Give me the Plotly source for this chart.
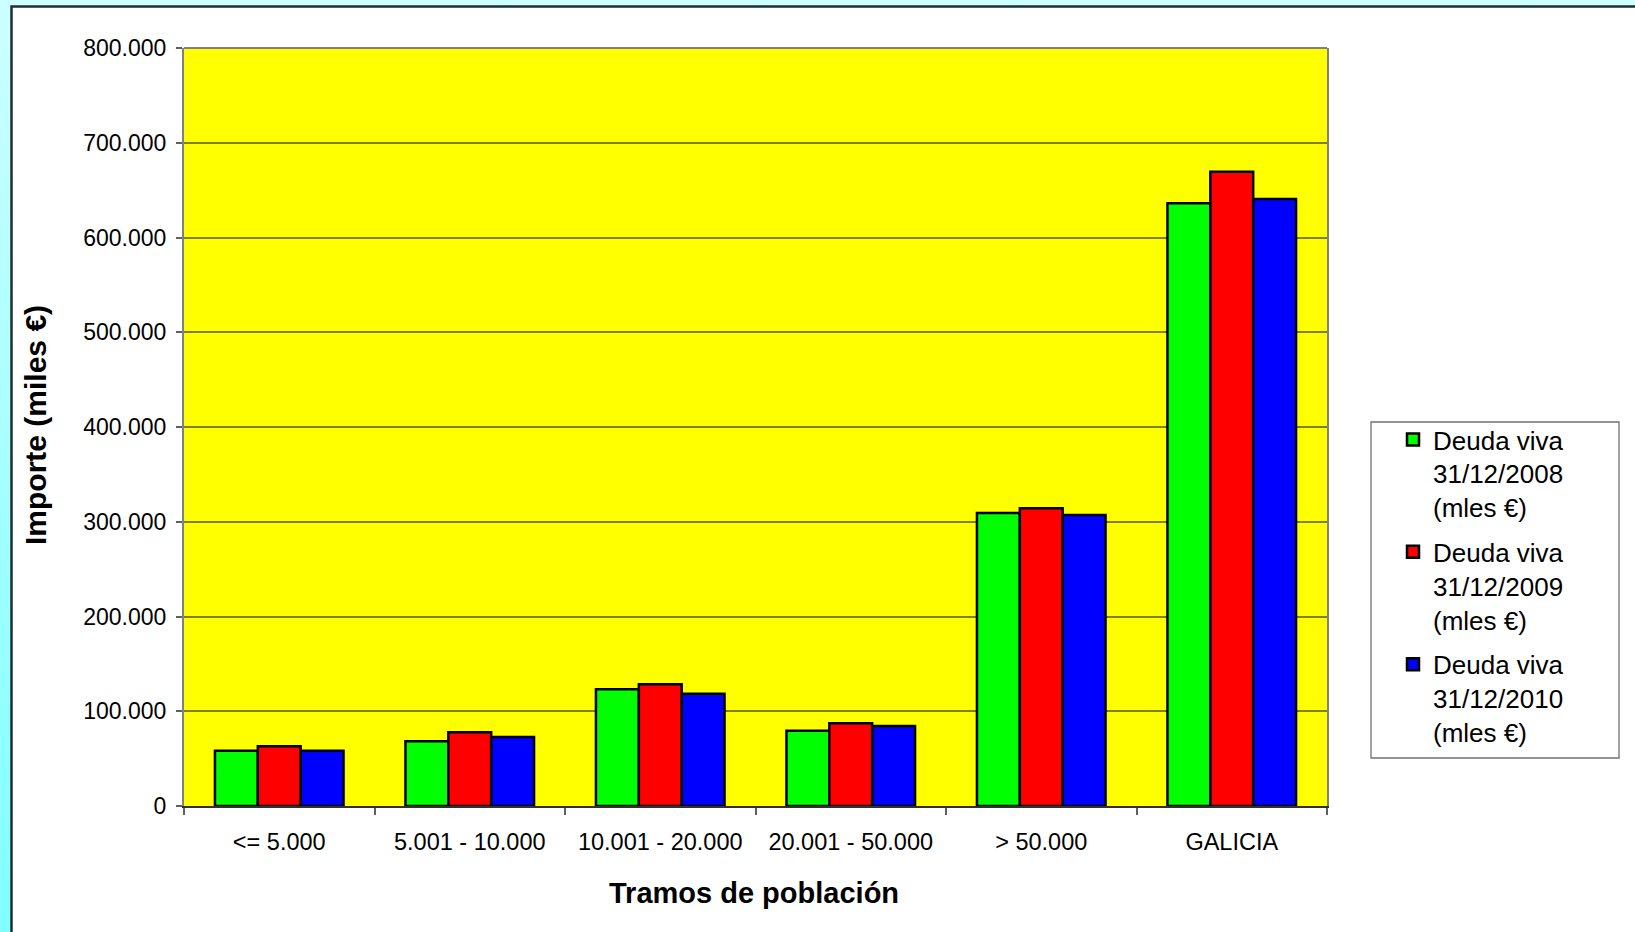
import base64
import plotly.graph_objects as go

categories = ["<= 5.000", "5.001 - 10.000", "10.001 - 20.000", "20.001 - 50.000", "> 50.000", "GALICIA"]
deuda_2008 = [58400, 68300, 123200, 79500, 309200, 636100]
deuda_2009 = [63000, 77800, 128400, 87300, 314200, 669500]
deuda_2010 = [58400, 72800, 118500, 84400, 307100, 640600]
series_names = [
    "Deuda viva<br>31/12/2008<br>(mles €)",
    "Deuda viva<br>31/12/2009<br>(mles €)",
    "Deuda viva<br>31/12/2010<br>(mles €)",
]
colors = ["#00FF00", "#FF0000", "#0000FF"]

W, H = 1635, 932
L, R, T, B = 184, 1327, 48, 806
pw, ph = R - L, B - T

def px(x):
    return (x - L) / pw

def py(y):
    return (B - y) / ph

svg = f'''<svg xmlns="http://www.w3.org/2000/svg" width="{W}" height="{H}" viewBox="0 0 {W} {H}" preserveAspectRatio="none">
<defs><linearGradient id="g" x1="0" y1="0" x2="0" y2="1">
<stop offset="0" stop-color="#CCFFFF"/><stop offset="1" stop-color="#80FFFF"/></linearGradient></defs>
<rect x="0" y="0" width="{W}" height="{H}" fill="url(#g)"/>
<rect x="11.5" y="6.5" width="{W + 20}" height="{H + 20}" fill="#FFFFFF" stroke="#1F2F2F" stroke-width="2.5"/>
</svg>'''
bg_uri = "data:image/svg+xml;base64," + base64.b64encode(svg.encode()).decode()

fig = go.Figure()
for i, (name, vals, col) in enumerate(zip(series_names, [deuda_2008, deuda_2009, deuda_2010], colors)):
    fig.add_trace(go.Bar(
        x=categories, y=vals, name=name, legendgroup=f"g{i}",
        marker=dict(color=col, line=dict(color="#000000", width=2.5)),
    ))

font_family = "Liberation Sans, Arial, sans-serif"

fig.update_layout(
    width=W, height=H,
    margin=dict(l=L, r=W - R, t=T, b=H - B, autoexpand=False),
    paper_bgcolor="#FFFFFF",
    plot_bgcolor="#FFFF00",
    separators=",.",
    barmode="group",
    bargap=0.325,
    bargroupgap=0,
    font=dict(family=font_family, color="#000000"),
    showlegend=True,
    legend=dict(
        x=px(1393), y=py(416), xanchor="left", yanchor="top",
        bgcolor="rgba(0,0,0,0)", borderwidth=0,
        font=dict(size=26, family=font_family, color="#000000"),
        valign="top", traceorder="grouped", tracegroupgap=8,
    ),
    images=[dict(
        source=bg_uri, xref="paper", yref="paper",
        x=px(0), y=py(0), sizex=W / pw, sizey=H / ph,
        xanchor="left", yanchor="top", sizing="stretch", layer="below",
    )],
    shapes=[
        dict(type="rect", xref="paper", yref="paper", layer="below",
             x0=0, x1=1, y0=0, y1=1,
             line=dict(width=0), fillcolor="#FFFF00"),
        dict(type="rect", xref="paper", yref="paper", layer="below",
             x0=px(1371), x1=px(1619), y0=py(422), y1=py(758),
             line=dict(color="#707070", width=1.3), fillcolor="#FFFFFF"),
        dict(type="line", xref="paper", yref="paper", layer="above",
             x0=0, x1=1, y0=1, y1=1, line=dict(color="#808080", width=2)),
    ],
    annotations=[
        dict(text="<b>Importe (miles €)</b>", xref="paper", yref="paper",
             x=px(35), y=py(425), textangle=-90, showarrow=False,
             font=dict(size=30, family=font_family, color="#000000"),
             xanchor="center", yanchor="middle"),
        dict(text="<b>Tramos de población</b>", xref="paper", yref="paper",
             x=px(754), y=py(893), showarrow=False,
             font=dict(size=29, family=font_family, color="#000000"),
             xanchor="center", yanchor="middle"),
    ],
)

fig.update_xaxes(
    type="category",
    showline=True, linecolor="#303030", linewidth=2,
    ticks="outside", tickson="boundaries", ticklen=7, tickcolor="#606060", tickwidth=1.5,
    ticklabelstandoff=14,
    tickfont=dict(size=23.5, family=font_family, color="#000000"),
    showgrid=False,
)
fig.update_yaxes(
    range=[0, 800000], dtick=100000, tickformat=",d",
    showline=True, linecolor="#808080", linewidth=2, mirror=True,
    ticks="outside", ticklen=6, tickcolor="#606060", tickwidth=1.5,
    ticklabelstandoff=5,
    tickfont=dict(size=23, family=font_family, color="#000000"),
    showgrid=True, gridcolor="#7F7F00", gridwidth=1.5,
    zeroline=False,
)

fig.write_html(
    "out.html",
    config={"displayModeBar": False},
    post_script="document.body.style.margin='0';document.body.style.padding='0';",
)
